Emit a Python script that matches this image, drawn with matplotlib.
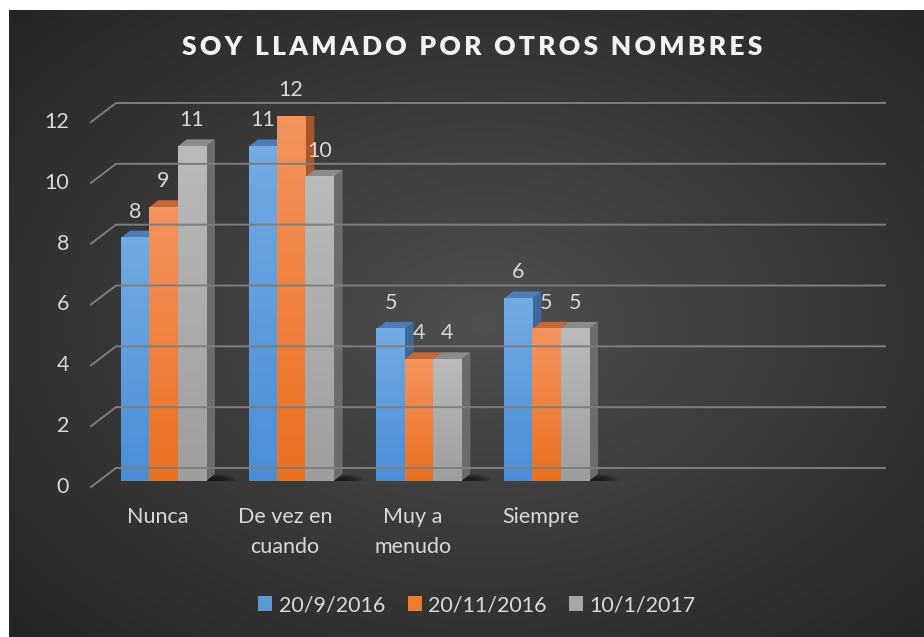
import numpy as np
import matplotlib
matplotlib.use('Agg')
import matplotlib.pyplot as plt
from matplotlib.colors import LinearSegmentedColormap
from matplotlib.patches import Polygon, Patch, Ellipse
from matplotlib.transforms import offset_copy

# Datos del gráfico
categorias = ['Nunca', 'De vez en\ncuando', 'Muy a\nmenudo', 'Siempre']
series = ['20/9/2016', '20/11/2016', '10/1/2017']
valores = [
    [8, 11, 5, 6],
    [9, 12, 4, 5],
    [11, 10, 4, 5],
]
ticks_y = [0, 2, 4, 6, 8, 10, 12]
titulo = 'SOY LLAMADO POR OTROS NOMBRES'

# colores: (arriba, abajo, cara superior, cara lateral, leyenda)
colores = [
    ('#72aae3', '#4a8fd6', '#4d7db2', '#3d6898', '#5b9bd5'),
    ('#f4935e', '#ea7020', '#c4693a', '#a9572a', '#ed7d31'),
    ('#bababa', '#9e9e9e', '#8c8c8c', '#6c6c6c', '#a5a5a5'),
]
texto = '#d9d9d9'
fuente = ['Lato', 'DejaVu Sans']
tam = 15.5

W, H = 924, 637
fig = plt.figure(figsize=(W / 100, H / 100), dpi=100)
fig.patch.set_facecolor('white')

# fondo con degradado radial
bg = fig.add_axes([9 / W, 0, (W - 9) / W, (H - 10) / H])
bg.set_axis_off()
yy, xx = np.mgrid[0:1:300j, 0:1:400j]
r = np.sqrt(((xx - 0.52) / 0.75) ** 2 + ((yy - 0.5) / 0.75) ** 2)
r = np.clip(r / 0.95, 0, 1)
c0 = np.array([0x4f, 0x4f, 0x4f]) / 255
c1 = np.array([0x25, 0x25, 0x25]) / 255
img = c0[None, None, :] * (1 - r[..., None]) + c1[None, None, :] * r[..., None]
bg.imshow(img, extent=[0, 1, 0, 1], aspect='auto', origin='lower')
bg.set_xlim(0, 1)
bg.set_ylim(0, 1)

# ejes del plano de las barras
x_izq, x_der, y_base, y_top = 91, 860, 481, 116
ax = fig.add_axes([x_izq / W, (H - y_base) / H, (x_der - x_izq) / W, (y_base - y_top) / H])
ax.patch.set_alpha(0)
px_x = 127.67
xlim = (-(163.5 - x_izq) / px_x, (x_der - 163.5) / px_x)
ax.set_xlim(*xlim)
ax.set_ylim(0, 12)
ax.set_axis_off()
px_y = (y_base - y_top) / 12


def shift(dx, dy):
    return offset_copy(ax.transData, fig=fig, x=dx, y=dy, units='dots')


# líneas de la pared de fondo
for v in ticks_y:
    x0, y0 = ax.transData.transform((xlim[0], v))
    x1, _ = ax.transData.transform((xlim[1], v))
    fig.add_artist(plt.Line2D([x0 / W, (x0 + 25) / W, (x1 + 25) / W],
                              [(y0 - 6) / H, (y0 + 13) / H, (y0 + 13) / H],
                              color='#7e7e7e', lw=1.4, zorder=1))
    ax.text(xlim[0], v, str(v), transform=shift(-22, -6), ha='right', va='center',
            color=texto, fontsize=tam, family=fuente)

# barras 3D
ancho = 28.3 / px_x
ddx = 9 / px_x
ddy = 7 / px_y
z = 3
for j, cat in enumerate(categorias):
    # sombra en el suelo
    xr = j + 1.5 * ancho
    for k in range(6):
        ax.add_patch(Ellipse((xr + 8 / px_x, 1 / px_y), (44 - 6 * k) / px_x, (12 - 1.5 * k) / px_y,
                             facecolor='black', edgecolor='none', alpha=0.12, zorder=2))
    for i, s in enumerate(series):
        v = valores[i][j]
        x0 = j - 1.5 * ancho + i * ancho
        x1 = x0 + ancho
        top, bot, cara_sup, cara_lat, _ = colores[i]
        ax.add_patch(Polygon([(x1, 0), (x1, v), (x1 + ddx, v + ddy), (x1 + ddx, ddy)],
                             closed=True, facecolor=cara_lat, edgecolor='none', zorder=z))
        ax.add_patch(Polygon([(x0, v), (x1, v), (x1 + ddx, v + ddy), (x0 + ddx, v + ddy)],
                             closed=True, facecolor=cara_sup, edgecolor='none', zorder=z))
        cmap = LinearSegmentedColormap.from_list('g%d' % i, [bot, top])
        ax.imshow(np.linspace(0, 1, 64).reshape(-1, 1), cmap=cmap, aspect='auto',
                  origin='lower', extent=[x0, x1, 0, v], zorder=z + 0.5)
        ax.text((x0 + x1) / 2, v, str(v), transform=shift(0, 26), ha='center', va='center',
                color=texto, fontsize=tam, family=fuente, zorder=10)
        z += 1
    ax.text(j, 0, cat, transform=shift(-6, -26), ha='center', va='top',
            color=texto, fontsize=tam, family=fuente, linespacing=1.6)

ax.set_xlim(*xlim)
ax.set_ylim(0, 12)

# título
fig.text(472 / W, 1 - 47 / H, '\u2009'.join(titulo), ha='center', va='center',
         color='#f2f2f2', fontsize=19, fontweight='heavy', family=fuente)

# leyenda
handles = [Patch(facecolor=c[4], edgecolor='none') for c in colores]
fig.legend(handles, series, loc='center', bbox_to_anchor=(477 / W, 1 - 605 / H), ncol=3,
           frameon=False, handlelength=0.65, handleheight=0.65, handletextpad=0.3,
           columnspacing=1.05, prop={'family': fuente, 'size': tam}, labelcolor=texto)

fig.savefig('out.png', dpi=100, facecolor='white')
